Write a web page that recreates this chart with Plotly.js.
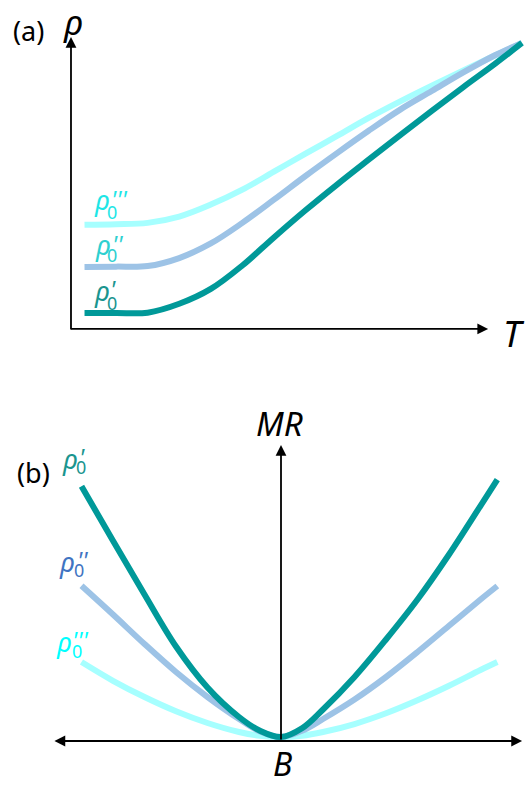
<!DOCTYPE html>
<html>
<head>
<meta charset="utf-8">
<script src="https://cdn.plot.ly/plotly-3.0.1.min.js"></script>
<style>html,body{margin:0;padding:0;background:#fff}#chart{width:525px;height:787px}</style>
</head>
<body>
<div id="chart"></div>
<script>
// ---- Panel (a): resistivity vs temperature ----
var T_a   = [0.3, 1.0, 1.7, 2.4, 3.1, 3.8, 4.5, 5.2, 5.9, 6.6, 7.3, 8.0, 8.7, 9.4, 10.0];
var rho_1 = [0.56, 0.56, 0.57, 0.88, 1.40, 2.22, 3.20, 4.15, 5.05, 5.92, 6.78, 7.63, 8.46, 9.27, 10.0];
var rho_2 = [2.17, 2.18, 2.20, 2.48, 2.99, 3.71, 4.52, 5.35, 6.15, 6.93, 7.67, 8.32, 8.97, 9.57, 10.0];
var rho_3 = [3.64, 3.66, 3.71, 3.93, 4.35, 4.87, 5.50, 6.13, 6.75, 7.38, 7.96, 8.51, 9.04, 9.56, 10.0];

// ---- Panel (b): magnetoresistance vs field ----
var B_b  = [-9.5, -8.0, -6.5, -5.0, -3.5, -2.0, -1.0, 0, 1.0, 2.0, 3.5, 5.0, 6.5, 8.0, 9.5, 10.3];
var MR_1 = [10.03, 7.85, 5.70, 3.62, 1.98, 0.80, 0.25, 0, 0.35, 1.10, 2.40, 3.90, 5.50, 7.30, 9.25, 10.3];
var MR_2 = [6.05, 4.90, 3.72, 2.60, 1.60, 0.72, 0.22, 0, 0.25, 0.72, 1.50, 2.40, 3.40, 4.45, 5.50, 6.04];
var MR_3 = [3.00, 2.25, 1.60, 1.03, 0.56, 0.20, 0.05, 0, 0.05, 0.20, 0.52, 0.95, 1.47, 2.05, 2.68, 3.00];

var primes = ["'", "''", "'''"];
var lineColors = ["#009999", "#9DC3E6", "#A6FFFF"];

var W = 525, H = 787;
function px(x){ return x / W; }
function py(y){ return 1 - y / H; }

function line(x, y, color, xa, ya){
  return {x: x, y: y, xaxis: xa, yaxis: ya, type: "scatter", mode: "lines",
    line: {color: color, width: 6, shape: "spline", smoothing: 1}, hoverinfo: "skip"};
}

var data = [
  line(T_a, rho_3, lineColors[2], "x", "y"),
  line(T_a, rho_2, lineColors[1], "x", "y"),
  line(T_a, rho_1, lineColors[0], "x", "y"),
  line(B_b, MR_3, lineColors[2], "x2", "y2"),
  line(B_b, MR_2, lineColors[1], "x2", "y2"),
  line(B_b, MR_1, lineColors[0], "x2", "y2")
];

var FONT = "Noto Sans, DejaVu Sans, sans-serif";
var hidden = {visible: false, fixedrange: true};
function txt(x, y, text, size, color, italic, yanchor){
  return {xref: "paper", yref: "paper", x: px(x), y: py(y), text: italic ? "<i>" + text + "</i>" : text,
    showarrow: false, xanchor: "center", yanchor: yanchor || "middle",
    font: {family: FONT, size: size, color: color}};
}
// rho_0 label with primes: [rho centre], [0 centre], [primes centre]
function rholab(r, z, p, nPrime, color){
  return [
    txt(r[0], r[1], "ρ", 27, color, true),
    txt(z[0], z[1], "0", 18, color, false),
    txt(p[0], p[1], primes[nPrime - 1], 24, color, true)
  ];
}
function arrow(xref, yref, x0, y0, x1, y1, side){
  return {xref: xref, yref: yref, axref: xref, ayref: yref, x: x1, y: y1, ax: x0, ay: y0,
    text: "", showarrow: true, arrowhead: 2, arrowsize: 1.2, arrowwidth: 1.8, arrowcolor: "#000",
    arrowside: side || "end", standoff: 0, startstandoff: 0};
}

var ann = [
  arrow("x", "y", 0, -0.07, 0, 10.21),
  arrow("x", "y", -0.03, 0, 9.25, 0),
  arrow("x2", "y2", 0, -0.16, 0, 11.68),
  arrow("x2", "y2", -10.86, -0.16, 11.48, -0.16, "end+start"),
  txt(28, 30, "(a)", 27, "#000", false),
  txt(73, 21, "ρ", 35, "#000", true),
  txt(514, 333, "T", 36, "#000", true),
  txt(33, 472, "(b)", 27, "#000", false),
  txt(279, 423, "MR", 33, "#000", true),
  txt(282, 787, "B", 32, "#000", true, "bottom")
];
ann = ann.concat(
  rholab([102, 200], [112, 212], [119, 198], 3, "#1EE6E6"),
  rholab([103, 244], [112, 255], [117, 243], 2, "#2ED0D0"),
  rholab([102, 291], [112, 303], [113, 288], 1, "#1A958F"),
  rholab([70, 458], [81, 467], [82, 456], 1, "#1A958F"),
  rholab([67, 561], [79, 570], [82, 559], 2, "#3F74C2"),
  rholab([64, 641], [77, 651], [80, 639], 3, "#00FFFF")
);

var layout = {
  width: W, height: H,
  margin: {l: 0, r: 0, t: 0, b: 0},
  paper_bgcolor: "#fff", plot_bgcolor: "rgba(0,0,0,0)",
  showlegend: false,
  xaxis: Object.assign({domain: [0, 1], range: [-1.574, 10.067]}, hidden),
  yaxis: Object.assign({domain: [0.5172, 1], range: [-1.783, 11.503]}, hidden),
  xaxis2: Object.assign({domain: [0, 1], range: [-13.381, 11.619], anchor: "y2"}, hidden),
  yaxis2: Object.assign({domain: [0, 0.4917], range: [-2, 13.48], anchor: "x2"}, hidden),
  annotations: ann
};

Plotly.newPlot("chart", data, layout, {staticPlot: true, displayModeBar: false});
</script>
</body>
</html>
